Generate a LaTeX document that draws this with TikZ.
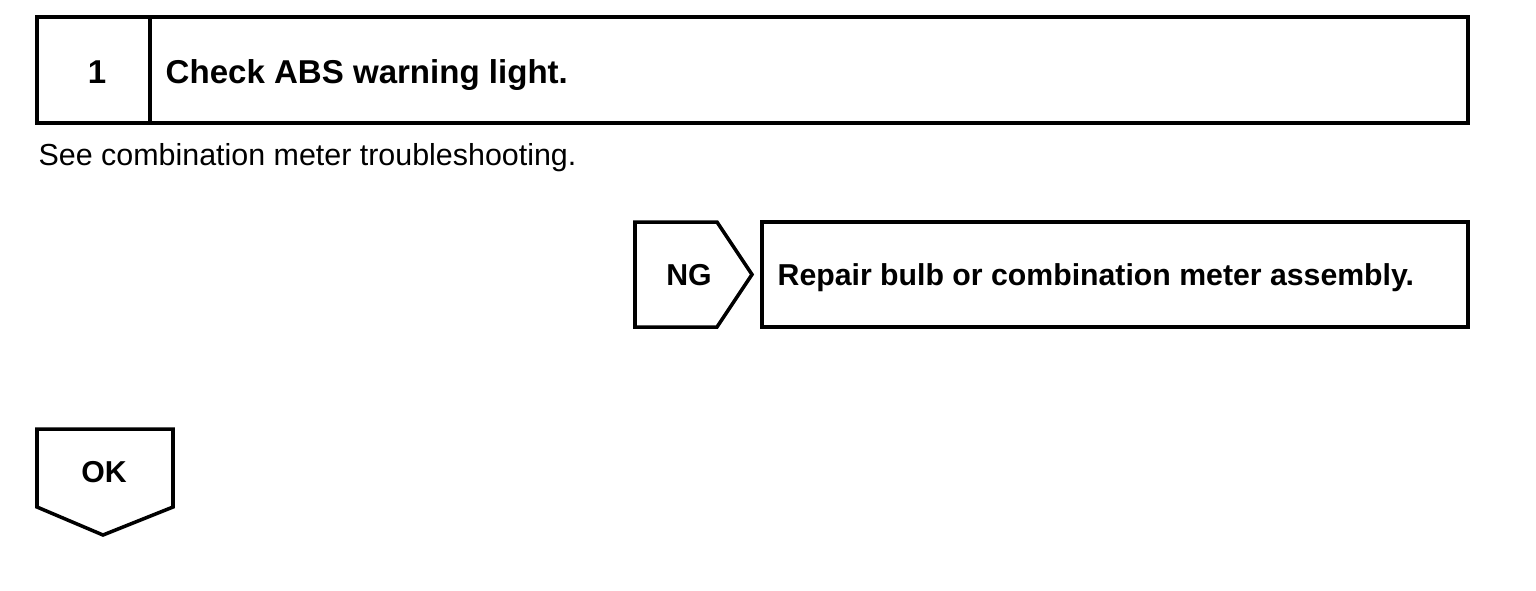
\documentclass[tikz,border=0pt]{standalone}
\usepackage{fontspec}
\setmainfont{Liberation Sans}
\usetikzlibrary{positioning}

\tikzset{
    frame/.style={draw, line width=1pt, line join=miter},
    title/.style={inner sep=0pt, anchor=base west, font=\bfseries\fontsize{9.4}{11}\selectfont},
    label/.style={inner sep=0pt, anchor=base, font=\bfseries\fontsize{8.6}{10}\selectfont},
    action/.style={inner sep=0pt, anchor=base west, font=\bfseries\fontsize{8.6}{10}\selectfont},
    note/.style={inner sep=0pt, anchor=base west, font=\fontsize{8.65}{10}\selectfont}
}

\begin{document}
\begin{tikzpicture}[x=0.01cm, y=-0.01cm]
    \useasboundingbox (0,0) rectangle (1536,590);

    % Step header
    \draw[frame] (37,17) rectangle (1468,123);
    \draw[frame] (150,17) -- (150,123);
    \node[label, font=\bfseries\fontsize{9.4}{11}\selectfont] (stepno) at (97,83) {1};
    \node[title] (steptitle) at (165,83) {Check ABS warning light.};
    \node[note] (hint) at (38,165) {See combination meter troubleshooting.};

    % NG branch
    \draw[frame] (635,222) -- (717,222) -- (752,274.5) -- (717,327) -- (635,327) -- cycle;
    \node[label] (ng) at (689,285) {NG};
    \draw[frame] (762,222) rectangle (1468,327);
    \node[action] (repair) at (777,285) {Repair bulb or combination meter assembly.};

    % OK branch
    \draw[frame] (37,429) -- (173,429) -- (173,507) -- (103,535) -- (37,507) -- cycle;
    \node[label] (ok) at (104,482) {OK};
\end{tikzpicture}
\end{document}
